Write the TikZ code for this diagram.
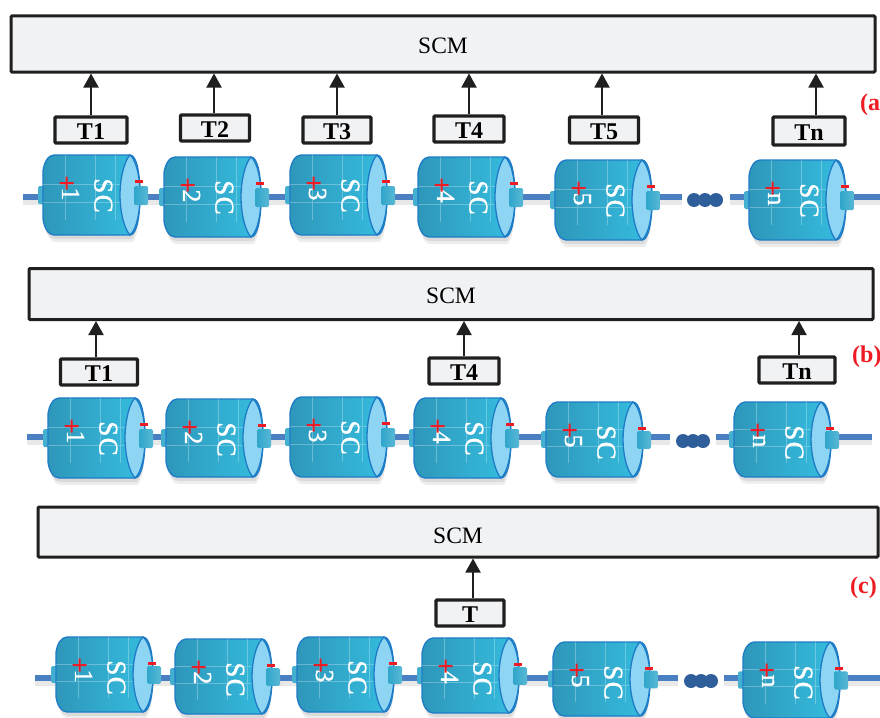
\documentclass[tikz,border=0pt]{standalone}
\usepackage{fontspec}
\setmainfont{Liberation Serif}
\newfontfamily\capfont[FakeBold=1.2]{Liberation Serif}
\newfontfamily\capwide[FakeBold=1.2,LetterSpace=5]{Liberation Serif}
\usetikzlibrary{arrows.meta}
\definecolor{boxfill}{HTML}{F1F2F4}
\definecolor{capdark}{HTML}{2E97BA}
\definecolor{caplight}{HTML}{35BEE0}
\definecolor{capedge}{HTML}{1E7CC6}
\definecolor{capend}{HTML}{8DD5F3}
\definecolor{stub}{HTML}{2FA6CA}
\definecolor{wirecol}{HTML}{4A7FC1}
\definecolor{dotcol}{HTML}{2F5F9B}
\definecolor{labred}{HTML}{ED1C24}
\newcommand{\droptext}[2]{\smash{\raisebox{-#1pt}{#2}}}
\tikzset{
  scmbox/.style={draw=black!88,line width=3pt,fill=boxfill,rounded corners=1pt,inner sep=0pt,font=\fontsize{23.5}{24}\selectfont},
  tbox/.style={draw=black!88,line width=3.3pt,fill=boxfill,rounded corners=1pt,inner sep=0pt,font=\fontsize{24}{24}\selectfont\bfseries},
  uparrow/.style={line width=1.9pt,draw=black!88,-{Triangle[width=15pt,length=14pt]}},
  wire/.style={line width=6pt,draw=wirecol},
  wireshadow/.style={line width=5pt,draw=black,opacity=.09},
  capcell/.style={inner sep=0pt,minimum width=108pt,minimum height=80pt},
  dotball/.style={circle,fill=dotcol,inner sep=0pt,minimum size=14pt},
  tag/.style={text=labred,font=\fontsize{24}{24}\selectfont\bfseries,inner sep=0pt},
}
% #1 node name, #2 left x, #3 top y, #4 label, #5 height
\newcommand{\capcell}[5]{%
  \node[capcell,minimum height=#5pt] (#1) at ({#2+46},{#3+#5/2}) {};
  \pgfmathsetmacro{\ys}{80/#5}
  \begin{scope}[shift={(#2,#3)},yscale=#5/80]
    \fill[black,opacity=.07] (2,14) .. controls (3,7) and (8,7) .. (12,7) -- (90,7)
       .. controls (97,20) and (101,70) .. (90,87) -- (12,87) .. controls (6,87) and (2,75) .. (2,70) -- cycle;
    \fill[black,opacity=.08] (2,14) .. controls (3,7) and (8,4) .. (12,4) -- (90,4)
       .. controls (96,20) and (100,70) .. (89,84) -- (12,84) .. controls (6,84) and (2,75) .. (2,70) -- cycle;
    \fill[stub!90!white,rounded corners=1.5pt] (-5,31) rectangle (3,49);
    \path[left color=capdark,right color=caplight,draw=capedge,line width=1.3pt]
      (0,16) .. controls (1,8) and (5,0) .. (11,0) -- (87,0)
      .. controls (94,0) and (97,20) .. (97,40) .. controls (97,60) and (94,80) .. (87,80)
      -- (11,80) .. controls (5,80) and (1,72) .. (0,64) -- cycle;
    \draw[white,opacity=.28,line width=.5pt] (0,29) -- (80,29) (0,47) -- (80,47)
       (22,0) -- (22,65) (52,0) -- (52,65) (72,0) -- (72,65);
    \path[fill=capend,draw=capedge,line width=1.3pt]
      (87,0) .. controls (81,6) and (77,24) .. (77,40) .. controls (77,56) and (81,74) .. (87,80)
      .. controls (94,74) and (97,56) .. (97,40) .. controls (97,24) and (94,6) .. (87,0) -- cycle;
    \path[left color=stub,right color=stub!80!white,rounded corners=1.5pt] (91,31) rectangle (105,50);
    \node[rotate=-90,anchor=base,text=white,font=\capfont\fontsize{26}{26}\selectfont,inner sep=0pt] at (19,{39*\ys}) {#4};
    \node[rotate=-90,anchor=base,text=white,font=\capwide\fontsize{27}{27}\selectfont,inner sep=0pt] at (51.5,{40.5*\ys}) {SC};
    \fill[labred] (16.5,{27*\ys}) rectangle (30.5,{29*\ys}) (22.5,{21.5*\ys}) rectangle (24.5,{34.5*\ys});
    \fill[labred] (92,{25.2*\ys}) rectangle (100,{27.8*\ys});
  \end{scope}}
\begin{document}
\begin{tikzpicture}[x=1pt,y=-1pt]
\useasboundingbox (0,0) rectangle (880,717);
\fill[white] (0,0) rectangle (880,717);

% ---------- (a)
\coordinate (wAs) at (23,197);
\coordinate (wAe) at (880,197);
\node[dotball] (dA1) at (694,200) {};
\node[dotball] (dA2) at (705,200) {};
\node[dotball] (dA3) at (716,200) {};
\coordinate (gA1) at (682,197);
\coordinate (gA2) at (730,197);
\draw[wireshadow] (23,202) -- (682,202) (730,202) -- (880,202);
\draw[wire] (wAs) -- (gA1);
\draw[wire] (gA2) -- (wAe);
\capcell{cA1}{43}{155}{1}{80}
\capcell{cA2}{164}{157}{2}{80}
\capcell{cA3}{290}{155}{3}{80}
\capcell{cA4}{418}{157}{4}{80}
\capcell{cA5}{555}{160}{5}{80}
\capcell{cAn}{749}{160}{n}{80}
\node[scmbox,minimum width=864pt,minimum height=56pt] (scmA) at (443,44) {\droptext{9.7}{SCM}};
\node[tbox,minimum width=72pt,minimum height=26pt] (tA1) at (91,130) {\droptext{9}{T1}};
\node[tbox,minimum width=69pt,minimum height=26pt] (tA2) at (215,128) {\droptext{9}{T2}};
\node[tbox,minimum width=68pt,minimum height=26pt] (tA3) at (337,130) {\droptext{9}{T3}};
\node[tbox,minimum width=70pt,minimum height=26pt] (tA4) at (469,129) {\droptext{9}{T4}};
\node[tbox,minimum width=69pt,minimum height=26pt] (tA5) at (604,130) {\droptext{9}{T5}};
\node[tbox,minimum width=72pt,minimum height=28pt] (tAn) at (809,131) {\droptext{9}{Tn}};
\foreach \t/\xx in {tA1/91,tA2/214,tA3/337,tA4/469,tA5/602,tAn/816}
  \draw[uparrow] (\xx,0 |- \t.north) -- (\xx,0 |- scmA.south);
\node[tag,anchor=west] (labA) at (860,105) {(a};

% ---------- (b)
\coordinate (wBs) at (27,437);
\coordinate (wBe) at (872,437);
\node[dotball] (dB1) at (683,441) {};
\node[dotball] (dB2) at (693,441) {};
\node[dotball] (dB3) at (703,441) {};
\coordinate (gB1) at (670,437);
\coordinate (gB2) at (716,437);
\draw[wireshadow] (27,442) -- (670,442) (716,442) -- (872,442);
\draw[wire] (wBs) -- (gB1);
\draw[wire] (gB2) -- (wBe);
\capcell{cB1}{48}{398}{1}{80}
\capcell{cB2}{166}{399}{2}{78}
\capcell{cB3}{290}{397}{3}{80}
\capcell{cB4}{414}{398}{4}{80}
\capcell{cB5}{546}{402}{5}{75}
\capcell{cBn}{734}{402}{n}{75}
\node[scmbox,minimum width=844pt,minimum height=51pt] (scmB) at (451,294) {\droptext{9}{SCM}};
\node[tbox,minimum width=77pt,minimum height=26pt] (tB1) at (99,372) {\droptext{9}{T1}};
\node[tbox,minimum width=70pt,minimum height=26pt] (tB4) at (464,371) {\droptext{9}{T4}};
\node[tbox,minimum width=76pt,minimum height=26pt] (tBn) at (797,370) {\droptext{9}{Tn}};
\foreach \t/\xx in {tB1/96,tB4/464,tBn/799}
  \draw[uparrow] (\xx,0 |- \t.north) -- (\xx,0 |- scmB.south);
\node[tag,anchor=west] (labB) at (852,357) {(b)};

% ---------- (c)
\coordinate (wCs) at (35,678);
\coordinate (wCe) at (880,678);
\node[dotball] (dC1) at (691,681) {};
\node[dotball] (dC2) at (701,681) {};
\node[dotball] (dC3) at (711,681) {};
\coordinate (gC1) at (678,678);
\coordinate (gC2) at (724,678);
\draw[wireshadow] (35,683) -- (678,683) (724,683) -- (880,683);
\draw[wire] (wCs) -- (gC1);
\draw[wire] (gC2) -- (wCe);
\capcell{cC1}{56}{637}{1}{75}
\capcell{cC2}{175}{639}{2}{75}
\capcell{cC3}{297}{637}{3}{75}
\capcell{cC4}{422}{638}{4}{75}
\capcell{cC5}{553}{642}{5}{74}
\capcell{cCn}{743}{642}{n}{76}
\node[scmbox,minimum width=840pt,minimum height=50pt] (scmC) at (458,532) {\droptext{11.7}{SCM}};
\node[tbox,minimum width=68pt,minimum height=26pt] (tC) at (470,613) {\droptext{9}{T}};
\draw[uparrow] (473,0 |- tC.north) -- (473,0 |- scmC.south);
\node[tag,anchor=west] (labC) at (850,588) {(c)};
\end{tikzpicture}
\end{document}
